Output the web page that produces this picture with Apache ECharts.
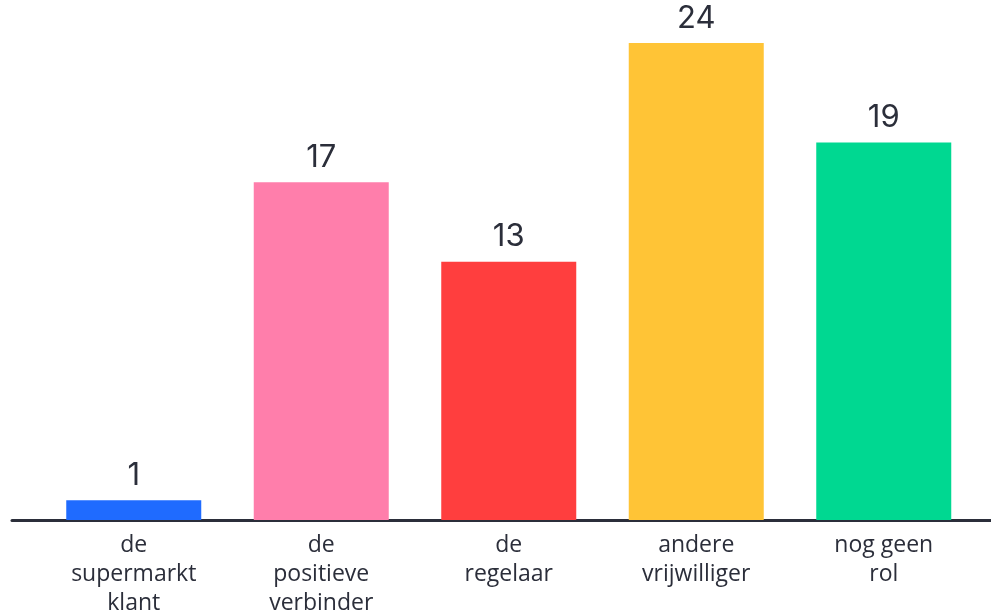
<!DOCTYPE html>
<html>
<head>
<meta charset="utf-8">
<script src="https://cdn.jsdelivr.net/npm/echarts@6/dist/echarts.min.js"></script>
<style>
  html, body { margin: 0; padding: 0; background: #fff; }
  #chart { width: 991px; height: 613px; }
</style>
</head>
<body>
<div id="chart"></div>
<script>
const categories = ['de\nsupermarkt\nklant', 'de\npositieve\nverbinder', 'de\nregelaar', 'andere\nvrijwilliger', 'nog geen\nrol'];
const values = [1, 17, 13, 24, 19];
const barColors = ['#1f6bff', '#ff7eab', '#ff3e3e', '#ffc436', '#00d891'];

const textColor = '#2b2e3a';
const fontFamily = 'Inter, "Noto Sans", sans-serif';

const chart = echarts.init(document.getElementById('chart'), null, { renderer: 'canvas' });

chart.setOption({
  animation: false,
  backgroundColor: '#fff',
  grid: [
    { left: 40, width: 937.5, top: 43, bottom: 93, outerBoundsMode: 'none', containLabel: false },
    { left: 12, right: 0, top: 43, bottom: 93, outerBoundsMode: 'none', containLabel: false }
  ],
  xAxis: [
    {
      type: 'category',
      gridIndex: 0,
      data: categories,
      axisLine: { show: false },
      axisTick: { show: false },
      axisLabel: {
        color: textColor,
        fontFamily: '"Open Sans", sans-serif',
        fontSize: 23,
        lineHeight: 29,
        margin: 11,
        interval: 0
      }
    },
    {
      type: 'value',
      gridIndex: 1,
      min: 0,
      max: 1,
      axisLine: { show: true, onZero: false, lineStyle: { color: '#2b2e3a', width: 3 } },
      axisTick: { show: false },
      axisLabel: { show: false },
      splitLine: { show: false }
    }
  ],
  yAxis: [
    { type: 'value', gridIndex: 0, min: 0, max: 24, show: false },
    { type: 'value', gridIndex: 1, min: 0, max: 1, show: false }
  ],
  series: [{
    type: 'bar',
    xAxisIndex: 0,
    yAxisIndex: 0,
    barWidth: 135,
    data: values.map((v, i) => ({ value: v, itemStyle: { color: barColors[i] } })),
    label: {
      show: true,
      position: 'top',
      distance: 9,
      color: textColor,
      fontFamily,
      fontSize: 31
    }
  }]
});
</script>
</body>
</html>
